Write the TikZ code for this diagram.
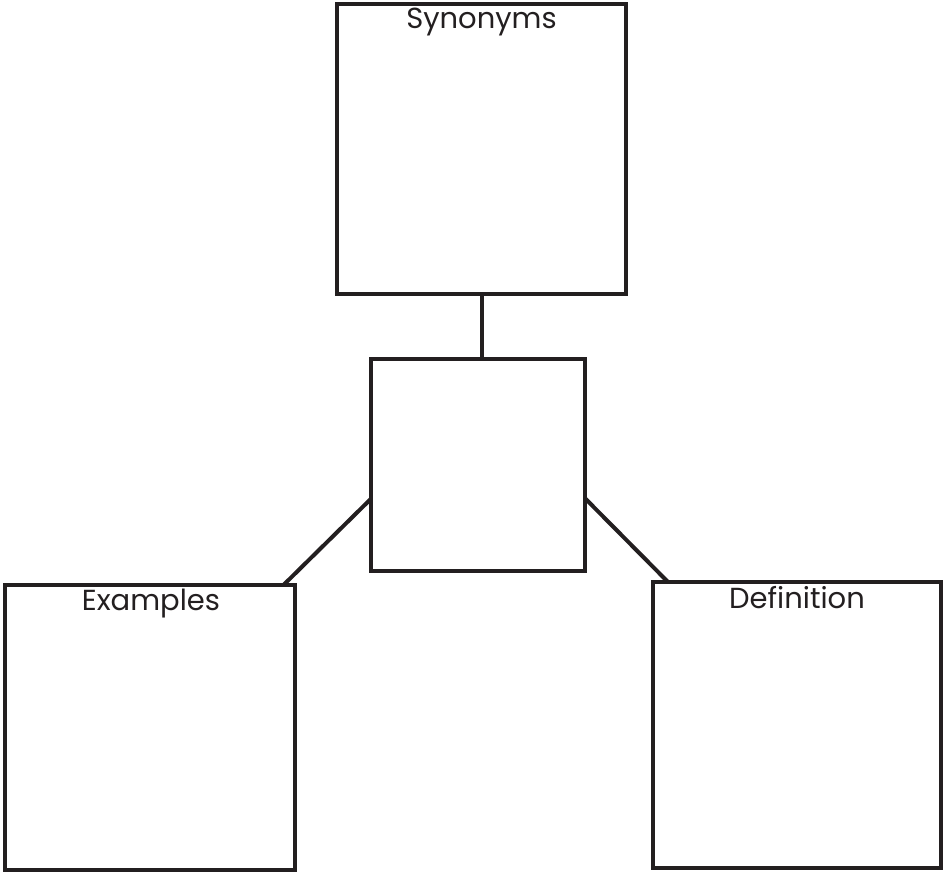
\documentclass[tikz,border=0pt]{standalone}
\usepackage{fontspec}
\setmainfont{Poppins}
\usetikzlibrary{calc}
\definecolor{ink}{HTML}{231F20}
\begin{document}
\begin{tikzpicture}[x=1pt,y=-1pt,
  box/.style={draw=ink,line width=4pt,inner sep=0pt,outer sep=0pt,rectangle},
  conn/.style={draw=ink,line width=4pt},
  lbl/.style={text=ink,font=\fontsize{29}{32}\selectfont,anchor=base,inner sep=0pt}]
\useasboundingbox (0,0) rectangle (943,873);
\node[box,minimum width=289pt,minimum height=290pt] (syn) at (481.5,149) {};
\node[box,minimum width=213.5pt,minimum height=212.5pt] (mid) at (477.75,464.75) {};
\node[box,minimum width=290pt,minimum height=285.5pt] (ex) at (150,727.25) {};
\node[box,minimum width=288pt,minimum height=286pt] (def) at (797,725) {};
\node[lbl] (tsyn) at (481.5,28) {Synonyms};
\node[lbl] (tex) at (151,610) {Examples};
\node[lbl] (tdef) at (797,608) {Definition};
\draw[conn] (mid.north) ++(4.25pt,0) coordinate (mtop) -- (mtop |- syn.south);
\draw[conn] ([yshift=-34pt]mid.west) -- ([xshift=-11pt]ex.north east);
\draw[conn] ([yshift=-33pt]mid.east) -- ([xshift=15pt]def.north west);
\end{tikzpicture}
\end{document}
